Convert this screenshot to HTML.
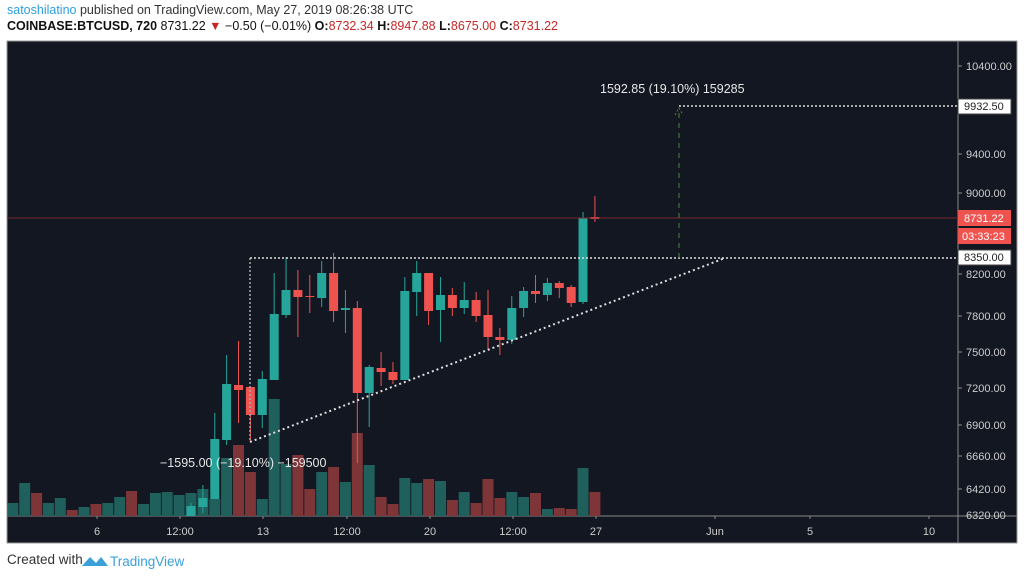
<!DOCTYPE html>
<html><head><meta charset="utf-8"><style>
body{margin:0;width:1024px;height:578px;background:#fff;overflow:hidden;font-family:"Liberation Sans",sans-serif}
.h1{position:absolute;left:7px;top:3px;font-size:12.5px;color:#333}
.h2{position:absolute;left:7px;top:19px;font-size:12.5px;color:#111}
.r{color:#c62828}
.ft{position:absolute;left:7px;top:552px;font-size:13.5px;color:#333}
</style></head><body>
<div class="h1"><span style="color:#2e9ee0">satoshilatino</span> published on TradingView.com, May 27, 2019 08:26:38 UTC</div>
<div class="h2"><b>COINBASE:BTCUSD, 720</b> 8731.22 <span class="r">▼</span> −0.50 (−0.01%) <b>O:</b><span class="r">8732.34</span> <b>H:</b><span class="r">8947.88</span> <b>L:</b><span class="r">8675.00</span> <b>C:</b><span class="r">8731.22</span></div>
<svg width="1024" height="578" style="position:absolute;left:0;top:0" font-family="Liberation Sans, sans-serif">
<rect x="7" y="41" width="1010" height="502" fill="#131722" stroke="#999" stroke-width="1"/>
<line x1="958" y1="41" x2="958" y2="543" stroke="#888"/>
<line x1="7" y1="516" x2="1017" y2="516" stroke="#888"/>
<g id="vol"></g>
<g id="cd"></g>
<line x1="7" y1="218" x2="958" y2="218" stroke="#7a2a30"/>
<line x1="250" y1="258" x2="958" y2="258" stroke="#ddd" stroke-width="1.5" stroke-dasharray="2,2"/>
<line x1="250" y1="258" x2="250" y2="442" stroke="#aaa" stroke-width="1.5" stroke-dasharray="2,2"/>
<line x1="250" y1="442" x2="725" y2="258" stroke="#ddd" stroke-width="2" stroke-dasharray="2,3"/>
<line x1="679" y1="258" x2="679" y2="110" stroke="#4a8a30" stroke-width="1" stroke-dasharray="5,5"/>
<path d="M675 115 L679 108 L683 115" stroke="#4a8a30" fill="none" stroke-dasharray="2,2"/>
<line x1="679" y1="106" x2="958" y2="106" stroke="#ddd" stroke-width="1.5" stroke-dasharray="2,2"/>
<text x="160" y="467" fill="#e6e6e6" font-size="12.5">−1595.00 (−19.10%) −159500</text>
<text x="600" y="93" fill="#e6e6e6" font-size="12.5">1592.85 (19.10%) 159285</text>
<g fill="#ccc" font-size="11">
<text x="966" y="70">10400.00</text><text x="966" y="158">9400.00</text><text x="966" y="197">9000.00</text>
<text x="966" y="278">8200.00</text><text x="966" y="320">7800.00</text><text x="966" y="356">7500.00</text>
<text x="966" y="392">7200.00</text><text x="966" y="429">6900.00</text><text x="966" y="460">6660.00</text>
<text x="966" y="493">6420.00</text><text x="966" y="519">6320.00</text>
</g>
<g stroke="#888"><line x1="958" y1="66" x2="962" y2="66"/><line x1="958" y1="154" x2="962" y2="154"/><line x1="958" y1="193" x2="962" y2="193"/><line x1="958" y1="274" x2="962" y2="274"/><line x1="958" y1="316" x2="962" y2="316"/><line x1="958" y1="352" x2="962" y2="352"/><line x1="958" y1="388" x2="962" y2="388"/><line x1="958" y1="425" x2="962" y2="425"/><line x1="958" y1="456" x2="962" y2="456"/><line x1="958" y1="489" x2="962" y2="489"/></g>
<rect x="958" y="99" width="53" height="15" fill="#fff" stroke="#444"/><text x="964" y="110" font-size="11" fill="#222">9932.50</text>
<rect x="958" y="210" width="53" height="16" fill="#ef5350"/><text x="964" y="222" font-size="11" fill="#fff">8731.22</text>
<rect x="958" y="228" width="53" height="16" fill="#ef5350"/><text x="962" y="240" font-size="11" fill="#fff">03:33:23</text>
<rect x="958" y="250" width="53" height="15" fill="#fff" stroke="#444"/><text x="964" y="261" font-size="11" fill="#222">8350.00</text>
<g fill="#ccc" font-size="11" text-anchor="middle">
<text x="97" y="535">6</text><text x="180" y="535">12:00</text><text x="263" y="535">13</text><text x="347" y="535">12:00</text>
<text x="430" y="535">20</text><text x="513" y="535">12:00</text><text x="596" y="535">27</text><text x="715" y="535">Jun</text>
<text x="810" y="535">5</text><text x="929" y="535">10</text></g>
<g stroke="#888"><line x1="97" y1="516" x2="97" y2="519"/><line x1="180" y1="516" x2="180" y2="519"/><line x1="263" y1="516" x2="263" y2="519"/><line x1="347" y1="516" x2="347" y2="519"/><line x1="430" y1="516" x2="430" y2="519"/><line x1="513" y1="516" x2="513" y2="519"/><line x1="596" y1="516" x2="596" y2="519"/><line x1="715" y1="516" x2="715" y2="519"/><line x1="810" y1="516" x2="810" y2="519"/><line x1="929" y1="516" x2="929" y2="519"/></g>
<path d="M82 566 L90 557 L96 563 L101 557 L108 566 Z" fill="#3aa0d8"/>
<text x="110" y="566" font-size="13.5" fill="#3aa0d8">TradingView</text>
</svg>
<div class="ft">Created with</div>
<script>
var vol=[[503,0],[483,0],[493,1],[503,0],[498,0],[510,1],[507,0],[504,1],[503,0],[497,0],[491,1],[504,0],[493,0],[492,0],[495,0],[493,0],[489,0],[499,0],[458,0],[445,1],[472,1],[499,0],[399,0],[464,0],[455,1],[489,1],[472,0],[467,1],[482,0],[433,1],[465,0],[497,1],[504,1],[478,0],[483,0],[479,1],[481,0],[500,1],[492,0],[503,1],[479,1],[498,1],[492,0],[497,0],[493,1],[509,0],[508,1],[509,1],[468,0],[492,1]];
var cd=[[0,506,516,503,516],[0,498,507,485,513],[0,439,499,413,499],[0,384,440,355,445],[1,385,390,341,423],[1,387,415,387,442],[0,379,415,371,428],[0,314,380,273,380],[0,290,315,257,318],[1,290,297,270,337],[1,296,297,275,313],[0,273,298,261,307],[1,273,311,253,322],[0,308,310,290,333],[1,308,393,301,463],[0,367,393,365,427],[1,368,372,352,386],[1,372,380,362,384],[0,291,380,277,380],[0,273,292,261,316],[1,273,311,273,325],[0,295,310,277,342],[1,295,308,288,316],[0,300,308,282,314],[1,300,316,292,322],[1,315,337,290,350],[1,337,340,328,355],[0,308,340,296,344],[0,291,308,287,317],[1,291,294,275,303],[0,283,295,278,301],[1,283,288,281,298],[1,287,303,285,307],[0,218,302,212,304],[1,217,219,196,222]];
var ns="http://www.w3.org/2000/svg",V=document.getElementById('vol'),C=document.getElementById('cd');
function el(p,t,a){var e=document.createElementNS(ns,t);for(var k in a)e.setAttribute(k,a[k]);p.appendChild(e);}
vol.forEach(function(v,i){var k=i-15,x=191+11.88*k;el(V,'rect',{x:(x-5.5).toFixed(1),y:v[0],width:11,height:516-v[0],fill:v[1]?'#7e3538':'#1f5f5c'});});
cd.forEach(function(c,k){var x=191+11.88*k,col=c[0]?'#ef5350':'#26a69a';el(C,'line',{x1:x,x2:x,y1:c[3],y2:c[4],stroke:col});el(C,'rect',{x:(x-4.5).toFixed(1),y:c[1],width:9,height:Math.max(1,c[2]-c[1]),fill:col});});
</script>
</body></html>
